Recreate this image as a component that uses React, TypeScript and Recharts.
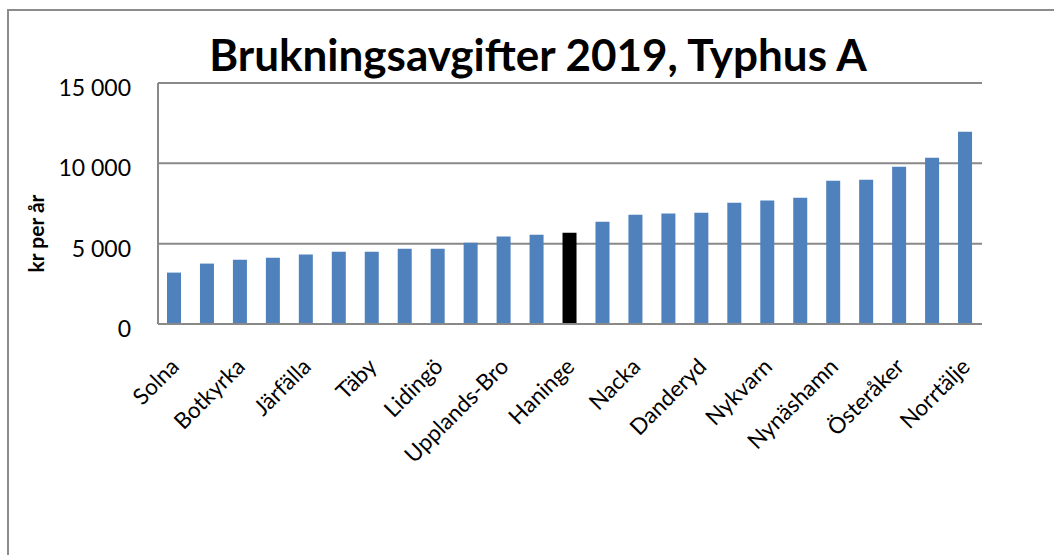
import React from "react";
import { BarChart, Bar, XAxis, YAxis, CartesianGrid, Cell, Label } from "recharts";

const municipalities = [
  "Solna", "Sundbyberg", "Botkyrka", "Huddinge", "Järfälla", "Sollentuna",
  "Täby", "Stockholm", "Lidingö", "Södertälje", "Upplands-Bro", "Upplands Väsby",
  "Haninge", "Tyresö", "Nacka", "Sigtuna", "Danderyd", "Vallentuna", "Nykvarn",
  "Ekerö", "Nynäshamn", "Värmdö", "Österåker", "Vaxholm", "Norrtälje",
];
const fees = [
  3200, 3760, 4000, 4130, 4320, 4500, 4500, 4690, 4690, 5060, 5440, 5560,
  5680, 6370, 6800, 6870, 6930, 7550, 7680, 7860, 8920, 8980, 9790, 10350, 11970,
];
const yTicks = [0, 5000, 10000, 15000];
const highlighted = "Haninge";

const data = municipalities.map((name, i) => ({ name, fee: fees[i] }));

const FONT = "Lato, 'Open Sans', sans-serif";
const GRID = "#898989";

function formatKr(v: number) {
  return v === 0 ? "0" : v.toLocaleString("en-US").replace(/,/g, " ");
}

function XTick({ x, y, payload }: any) {
  const ax = x + 6;
  const ay = y + 36;
  return (
    <text
      x={ax}
      y={ay}
      transform={`rotate(-45 ${ax} ${ay})`}
      textAnchor="end"
      fontFamily={FONT}
      fontSize={22.5}
      fill="#000"
    >
      {payload.value}
    </text>
  );
}

function YTick({ x, y, payload }: any) {
  return (
    <text x={x} y={y + 13} textAnchor="end" fontFamily={FONT} fontSize={23} fill="#000">
      {formatKr(payload.value)}
    </text>
  );
}

export default function App() {
  return (
    <div style={{ position: "fixed", left: 0, top: 0, width: 1054, height: 555, overflow: "hidden", background: "#fff" }}>
      <style>{"html, body { overflow: hidden; }"}</style>
      {/* chart frame: only the left and top edges are inside the picture */}
      <div style={{ position: "absolute", left: 7, top: 9, width: 1100, height: 2, background: "#8c8c8c" }} />
      <div style={{ position: "absolute", left: 7, top: 9, width: 2, height: 600, background: "#8c8c8c" }} />
      <div
        style={{
          position: "absolute",
          left: 0,
          width: 1076,
          top: 28,
          textAlign: "center",
          fontFamily: FONT,
          fontWeight: 700,
          fontSize: 44,
          lineHeight: "52px",
          color: "#000",
        }}
      >
        Brukningsavgifter 2019, Typhus A
      </div>
      <div style={{ position: "absolute", left: 0, top: 0 }}>
        <BarChart
          width={1054}
          height={555}
          data={data}
          margin={{ top: 83, right: 72, bottom: 0, left: 58 }}
          barSize={14}
        >
          <CartesianGrid horizontal vertical={false} stroke={GRID} strokeWidth={2} />
          <XAxis
            dataKey="name"
            interval={1}
            height={231}
            tick={<XTick />}
            tickLine={false}
            axisLine={{ stroke: GRID, strokeWidth: 2 }}
          />
          <YAxis
            width={100}
            domain={[0, 15000]}
            ticks={yTicks}
            tick={<YTick />}
            tickLine={false}
            tickSize={0}
            tickMargin={27}
            axisLine={{ stroke: GRID, strokeWidth: 2 }}
          >
            <Label
              value="kr per år"
              angle={-90}
              position="insideLeft"
              offset={-21}
              dy={30}
              style={{ fontFamily: FONT, fontWeight: 700, fontSize: 21, fill: "#000", textAnchor: "middle" }}
            />
          </YAxis>
          <Bar dataKey="fee" isAnimationActive={false}>
            {data.map((d) => (
              <Cell key={d.name} fill={d.name === highlighted ? "#000000" : "#4f81bd"} />
            ))}
          </Bar>
        </BarChart>
      </div>
    </div>
  );
}
